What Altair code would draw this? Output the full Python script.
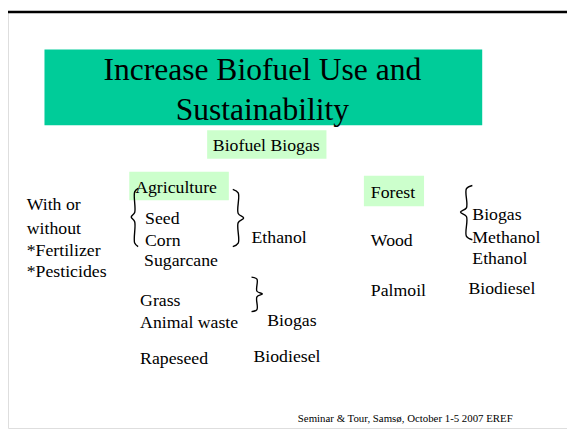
import altair as alt
import pandas as pd

# ---------------- content ----------------
title_lines = ["Increase Biofuel Use and", "Sustainability"]
subtitle = "Biofuel  Biogas"
conditions = ["With or", "without", "*Fertilizer", "*Pesticides"]
agri_header = "Agriculture"
agri_crops = ["Seed", "Corn", "Sugarcane"]
agri_other = ["Grass", "Animal waste", "Rapeseed"]
agri_fuels = ["Ethanol", "Biogas", "Biodiesel"]
forest_header = "Forest"
forest_sources = ["Wood", "Palmoil"]
forest_fuels = ["Biogas", "Methanol", "Ethanol", "Biodiesel"]
footer = "Seminar & Tour,  Samsø,  October 1-5 2007 EREF"

# ---------------- layout (page pixels, text baselines) ----------------
W, H, M = 575, 431, 8
FONT = "Liberation Serif"

title_x = [266, 266]
title_y = [78, 119]
sub_xy = (270, 150)
cond_x, cond_y = 27, [210, 234, 257, 278]
agri_hdr_xy = (137, 193)
crops_x, crops_y = [147, 147, 146], [224, 246, 267]
other_x, other_y = [142, 142, 142], [307, 330, 366]
afuel_x, afuel_y = [255, 271, 257], [243, 328, 364]
forest_hdr_xy = (376, 198)
fsrc_x, fsrc_y = [376, 376], [246, 297]
ffuel_x, ffuel_y = [479, 479, 479, 475], [220, 243, 265, 295]
footer_xy = (302, 425)

texts = []
def add(t, x, y, fs, al, g):
    texts.append(dict(t=t, x=x, y=y, fs=fs, al=al, g=g))

for t, x, y in zip(title_lines, title_x, title_y):
    add(t, x, y, 32, "center", "title")
add(subtitle, sub_xy[0], sub_xy[1], 18, "center", "sub")
for t, y in zip(conditions, cond_y):
    add(t, cond_x, y, 18, "left", "body")
add(agri_header, agri_hdr_xy[0], agri_hdr_xy[1], 18, "left", "body")
for t, x, y in zip(agri_crops, crops_x, crops_y):
    add(t, x, y, 18, "left", "body")
for t, x, y in zip(agri_other, other_x, other_y):
    add(t, x, y, 18, "left", "body")
for t, x, y in zip(agri_fuels, afuel_x, afuel_y):
    add(t, x, y, 18, "left", "body")
add(forest_header, forest_hdr_xy[0], forest_hdr_xy[1], 18, "left", "body")
for t, x, y in zip(forest_sources, fsrc_x, fsrc_y):
    add(t, x, y, 18, "left", "body")
for t, x, y in zip(forest_fuels, ffuel_x, ffuel_y):
    add(t, x, y, 18, "left", "body")
add(footer, footer_xy[0], footer_xy[1], 11, "left", "footer")
tdf = pd.DataFrame(texts)

boxes = pd.DataFrame([
    dict(x=45, x2=489, y=47, y2=124, fill="#00CC99"),
    dict(x=210, x2=331, y=129, y2=158, fill="#CCFFCC"),
    dict(x=131, x2=232, y=171, y2=200, fill="#CCFFCC"),
    dict(x=369, x2=430, y=175, y2=206, fill="#CCFFCC"),
])

# braces: (id, tip x, arm x, top y, bottom y, cusp y)
brace_specs = [
    ("b1", 133, 140, 188, 247, 217),
    ("b2", 247, 236, 189, 247, 218),
    ("b3", 266, 255, 278, 313, 295),
    ("b4", 467, 479, 185, 240, 212),
]
template = [(1, 0.0), (0.5, 0.06), (0.5, 0.42), (0, 0.5), (0.5, 0.58), (0.5, 0.94), (1, 1.0)]
rows = []
for bid, xt, xa, y0, y1, yc in brace_specs:
    for i, (u, v) in enumerate(template):
        if v <= 0.5:
            y = y0 + (yc - y0) * v / 0.5
        else:
            y = yc + (y1 - yc) * (v - 0.5) / 0.5
        rows.append(dict(b=bid, i=i, x=xt + (xa - xt) * u, y=y))
bdf = pd.DataFrame(rows)

xs = alt.Scale(domain=[M, W], range=[0, W - M], nice=False, zero=False)
ys = alt.Scale(domain=[M, H], range=[0, H - M], nice=False, zero=False)

border = alt.Chart(pd.DataFrame([dict(x=6, x2=620, y=9, y2=470)])).mark_rect(
    fill=None, stroke="#000000", strokeWidth=2.5
).encode(
    x=alt.X("x:Q", scale=xs, axis=None), x2="x2:Q",
    y=alt.Y("y:Q", scale=ys, axis=None), y2="y2:Q",
)

rects = alt.Chart(boxes).mark_rect().encode(
    x=alt.X("x:Q", scale=xs, axis=None), x2="x2:Q",
    y=alt.Y("y:Q", scale=ys, axis=None), y2="y2:Q",
    fill=alt.Fill("fill:N", scale=None),
)

braces = alt.Chart(bdf).mark_line(
    color="#000000", strokeWidth=1.4, interpolate="catmull-rom"
).encode(
    x=alt.X("x:Q", scale=xs, axis=None),
    y=alt.Y("y:Q", scale=ys, axis=None),
    detail="b:N",
    order="i:Q",
)

text_layers = []
for g in ["title", "sub", "body", "footer"]:
    sub = tdf[tdf.g == g]
    text_layers.append(alt.Chart(sub).mark_text(
        align=sub.al.iloc[0], baseline="alphabetic", font=FONT,
        fontSize=int(sub.fs.iloc[0]), color="#000000"
    ).encode(
        x=alt.X("x:Q", scale=xs, axis=None),
        y=alt.Y("y:Q", scale=ys, axis=None),
        text="t:N",
    ))

chart = alt.layer(border, rects, braces, *text_layers).properties(
    width=W - M, height=H - M, padding=0, autosize=alt.AutoSizeParams(type="none"),
    background="#FFFFFF",
).configure_view(stroke=None).configure(font=FONT)

chart.save("out.html", embed_options={"renderer": "svg", "actions": False})
